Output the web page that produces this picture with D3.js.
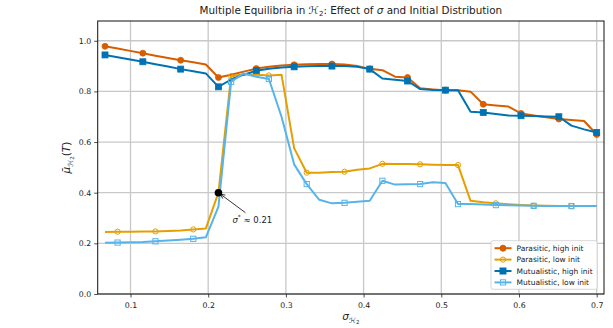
<!DOCTYPE html>
<html>
<head>
<meta charset="utf-8">
<script src="https://cdn.jsdelivr.net/npm/d3@7"></script>
<style>
  body { margin: 0; background: #fff; }
  text { font-family: "DejaVu Sans", sans-serif; fill: #222; }
</style>
</head>
<body>
<div id="chart"></div>
<script>
// sigma values (x)
const sigma = [0.0672, 0.0834, 0.0997, 0.1159, 0.1321, 0.1483, 0.1646, 0.1808, 0.1970, 0.2132,
  0.2295, 0.2457, 0.2619, 0.2781, 0.2944, 0.3106, 0.3268, 0.3430, 0.3593, 0.3755,
  0.3917, 0.4079, 0.4242, 0.4404, 0.4566, 0.4728, 0.4891, 0.5053, 0.5215, 0.5377,
  0.5540, 0.5702, 0.5864, 0.6026, 0.6189, 0.6351, 0.6513, 0.6675, 0.6838, 0.7000];

const parasiticHigh = [0.978, 0.969, 0.960, 0.951, 0.941, 0.932, 0.923, 0.915, 0.906, 0.855,
  0.866, 0.878, 0.890, 0.897, 0.902, 0.905, 0.907, 0.908, 0.908, 0.906,
  0.900, 0.889, 0.884, 0.858, 0.855, 0.812, 0.808, 0.805, 0.805, 0.799,
  0.749, 0.744, 0.740, 0.713, 0.705, 0.698, 0.691, 0.687, 0.683, 0.630];

const parasiticLow = [0.245, 0.246, 0.246, 0.247, 0.247, 0.249, 0.251, 0.255, 0.259, 0.400,
  0.860, 0.868, 0.866, 0.863, 0.866, 0.576, 0.479, 0.479, 0.482, 0.483,
  0.491, 0.496, 0.514, 0.513, 0.513, 0.512, 0.510, 0.509, 0.509, 0.368,
  0.362, 0.358, 0.354, 0.351, 0.349, 0.348, 0.347, 0.347, 0.347, 0.347];

const mutualHigh = [0.944, 0.935, 0.926, 0.917, 0.907, 0.898, 0.888, 0.880, 0.871, 0.818,
  0.847, 0.866, 0.882, 0.889, 0.894, 0.897, 0.899, 0.900, 0.900, 0.900,
  0.897, 0.888, 0.851, 0.846, 0.841, 0.809, 0.806, 0.805, 0.805, 0.720,
  0.717, 0.711, 0.705, 0.704, 0.703, 0.701, 0.700, 0.665, 0.650, 0.638];

const mutualLow = [0.202, 0.203, 0.204, 0.205, 0.208, 0.211, 0.214, 0.218, 0.224, 0.345,
  0.838, 0.871, 0.858, 0.849, 0.700, 0.512, 0.434, 0.372, 0.358, 0.360,
  0.364, 0.368, 0.447, 0.432, 0.433, 0.434, 0.441, 0.438, 0.355, 0.355,
  0.353, 0.351, 0.350, 0.349, 0.348, 0.347, 0.347, 0.347, 0.347, 0.347];

const xTicks = [0.1, 0.2, 0.3, 0.4, 0.5, 0.6, 0.7];
const yTicks = [0.0, 0.2, 0.4, 0.6, 0.8, 1.0];

const sigmaStar = 0.2132, muStar = 0.40;

const series = [
  { name: "Parasitic, high init", values: parasiticHigh, color: "#D55E00", shape: "circle", filled: true, offset: 0 },
  { name: "Parasitic, low init", values: parasiticLow, color: "#E69F00", shape: "circle", filled: false, offset: 1 },
  { name: "Mutualistic, high init", values: mutualHigh, color: "#0072B2", shape: "square", filled: true, offset: 0 },
  { name: "Mutualistic, low init", values: mutualLow, color: "#56B4E9", shape: "square", filled: false, offset: 1 }
];

const width = 613, height = 328;
const margin = { top: 21, right: 9, bottom: 34, left: 97.7 };

const svg = d3.select("#chart").append("svg")
  .attr("width", width)
  .attr("height", height);

const x = d3.scaleLinear().domain([0.0578, 0.7094]).range([margin.left, width - margin.right]);
const y = d3.scaleLinear().domain([0, 1.078]).range([height - margin.bottom, margin.top]);

// grid
svg.append("g").selectAll("line").data(xTicks).join("line")
  .attr("x1", d => x(d)).attr("x2", d => x(d))
  .attr("y1", margin.top).attr("y2", height - margin.bottom)
  .attr("stroke", "#c8c8c8").attr("stroke-width", 1.3);
svg.append("g").selectAll("line").data(yTicks).join("line")
  .attr("x1", margin.left).attr("x2", width - margin.right)
  .attr("y1", d => y(d)).attr("y2", d => y(d))
  .attr("stroke", "#c8c8c8").attr("stroke-width", 1.3);

// axes
const xAxis = svg.append("g")
  .attr("transform", `translate(0,${height - margin.bottom})`)
  .call(d3.axisBottom(x).tickValues(xTicks).tickFormat(d3.format(".1f")).tickSize(3.5).tickSizeOuter(0));
const yAxis = svg.append("g")
  .attr("transform", `translate(${margin.left},0)`)
  .call(d3.axisLeft(y).tickValues(yTicks).tickFormat(d3.format(".1f")).tickSize(3.5).tickSizeOuter(0));
[xAxis, yAxis].forEach(g => {
  g.select(".domain").remove();
  g.selectAll("text").style("font-size", "7.8px").attr("fill", "#1a1a1a");
  g.selectAll(".tick line").attr("stroke", "#222").attr("stroke-width", 0.8);
});
xAxis.selectAll("text").attr("dy", "0.95em");

// lines
const line = d3.line().x((d, i) => x(sigma[i])).y(d => y(d));
series.forEach(s => {
  const g = svg.append("g");
  g.append("path")
    .datum(s.values)
    .attr("fill", "none")
    .attr("stroke", s.color)
    .attr("stroke-width", 2)
    .attr("stroke-linejoin", "round")
    .attr("d", line);

  const pts = s.values.map((v, i) => ({ v, i })).filter(p => (p.i - s.offset) % 3 === 0 && p.i >= s.offset);
  if (s.shape === "circle") {
    g.selectAll("circle").data(pts).join("circle")
      .attr("cx", p => x(sigma[p.i])).attr("cy", p => y(p.v))
      .attr("r", s.filled ? 3 : 2.6)
      .attr("fill", s.filled ? s.color : "none")
      .attr("stroke", s.color).attr("stroke-width", s.filled ? 0.8 : 1);
  } else {
    const a = s.filled ? 6 : 5.2;
    g.selectAll("rect").data(pts).join("rect")
      .attr("x", p => x(sigma[p.i]) - a / 2).attr("y", p => y(p.v) - a / 2)
      .attr("width", a).attr("height", a)
      .attr("fill", s.filled ? s.color : "none")
      .attr("stroke", s.color).attr("stroke-width", s.filled ? 0.8 : 1);
  }
});

// spines
svg.append("rect")
  .attr("x", margin.left).attr("y", margin.top)
  .attr("width", width - margin.right - margin.left)
  .attr("height", height - margin.bottom - margin.top)
  .attr("fill", "none").attr("stroke", "#111").attr("stroke-width", 1);

// annotation
const px = x(sigmaStar), py = y(muStar);
svg.append("circle").attr("cx", px).attr("cy", py).attr("r", 3.8).attr("fill", "#000");
const ax0 = px + 27, ay0 = py + 20;
const ang = Math.atan2(py - ay0, px - ax0);
const tipX = px + 2.5 * Math.cos(ang + Math.PI), tipY = py + 2.5 * Math.sin(ang + Math.PI);
svg.append("line").attr("x1", ax0).attr("y1", ay0).attr("x2", tipX).attr("y2", tipY)
  .attr("stroke", "#000").attr("stroke-width", 0.8);
const hl = 5, hw = 0.45;
svg.append("path")
  .attr("d", `M${tipX + hl * Math.cos(ang + Math.PI - hw)},${tipY + hl * Math.sin(ang + Math.PI - hw)} L${tipX},${tipY} L${tipX + hl * Math.cos(ang + Math.PI + hw)},${tipY + hl * Math.sin(ang + Math.PI + hw)}`)
  .attr("fill", "none").attr("stroke", "#000").attr("stroke-width", 0.8);
const ann = svg.append("text").attr("x", px + 14).attr("y", py + 30).style("font-size", "8.5px");
ann.append("tspan").style("font-style", "italic").text("σ");
ann.append("tspan").attr("dy", -3.5).style("font-size", "6px").text("*");
ann.append("tspan").attr("dy", 3.5).text(" ≈ 0.21");

// title
const title = svg.append("text").attr("x", (margin.left + width - margin.right) / 2).attr("y", 13.5)
  .attr("text-anchor", "middle").style("font-size", "10.4px");
title.append("tspan").text("Multiple Equilibria in ");
title.append("tspan").style("font-style", "italic").text("ℋ");
title.append("tspan").attr("dy", 2).style("font-size", "7px").text("2");
title.append("tspan").attr("dy", -2).text(": Effect of ");
title.append("tspan").style("font-style", "italic").text("σ");
title.append("tspan").text(" and Initial Distribution");

// x label
const xl = svg.append("text").attr("x", (margin.left + width - margin.right) / 2).attr("y", 320)
  .attr("text-anchor", "middle").style("font-size", "10.5px");
xl.append("tspan").style("font-style", "italic").text("σ");
xl.append("tspan").attr("dy", 3).style("font-size", "7px").style("font-style", "italic").text("ℋ");
xl.append("tspan").style("font-size", "5.5px").attr("dy", 1).text("2");

// y label
const yl = svg.append("text")
  .attr("transform", `translate(70,${(margin.top + height - margin.bottom) / 2}) rotate(-90)`)
  .attr("text-anchor", "middle").style("font-size", "10.5px");
yl.append("tspan").style("font-style", "italic").text("μ\u0304");
yl.append("tspan").attr("dy", 3).style("font-size", "7px").style("font-style", "italic").text("ℋ");
yl.append("tspan").style("font-size", "5.5px").attr("dy", 1).text("2");
yl.append("tspan").attr("dy", -4).text("(");
yl.append("tspan").style("font-style", "italic").text("T");
yl.append("tspan").text(")");

// legend
const lg = svg.append("g").attr("transform", "translate(491,240.7)");
lg.append("rect").attr("width", 106.3).attr("height", 48.6).attr("rx", 2)
  .attr("fill", "#fff").attr("fill-opacity", 0.85).attr("stroke", "#ccc").attr("stroke-width", 0.8);
series.forEach((s, k) => {
  const row = lg.append("g").attr("transform", `translate(0,${7.5 + k * 11.4})`);
  row.append("line").attr("x1", 3.5).attr("x2", 20.5).attr("stroke", s.color).attr("stroke-width", 2);
  if (s.shape === "circle") {
    row.append("circle").attr("cx", 12).attr("r", s.filled ? 3 : 2.6)
      .attr("fill", s.filled ? s.color : "none").attr("stroke", s.color).attr("stroke-width", 1);
  } else {
    const a = s.filled ? 6 : 5.2;
    row.append("rect").attr("x", 12 - a / 2).attr("y", -a / 2).attr("width", a).attr("height", a)
      .attr("fill", s.filled ? s.color : "none").attr("stroke", s.color).attr("stroke-width", 1);
  }
  row.append("text").attr("x", 25.5).attr("dy", "0.35em").style("font-size", "7.5px").text(s.name);
});
</script>
</body>
</html>
